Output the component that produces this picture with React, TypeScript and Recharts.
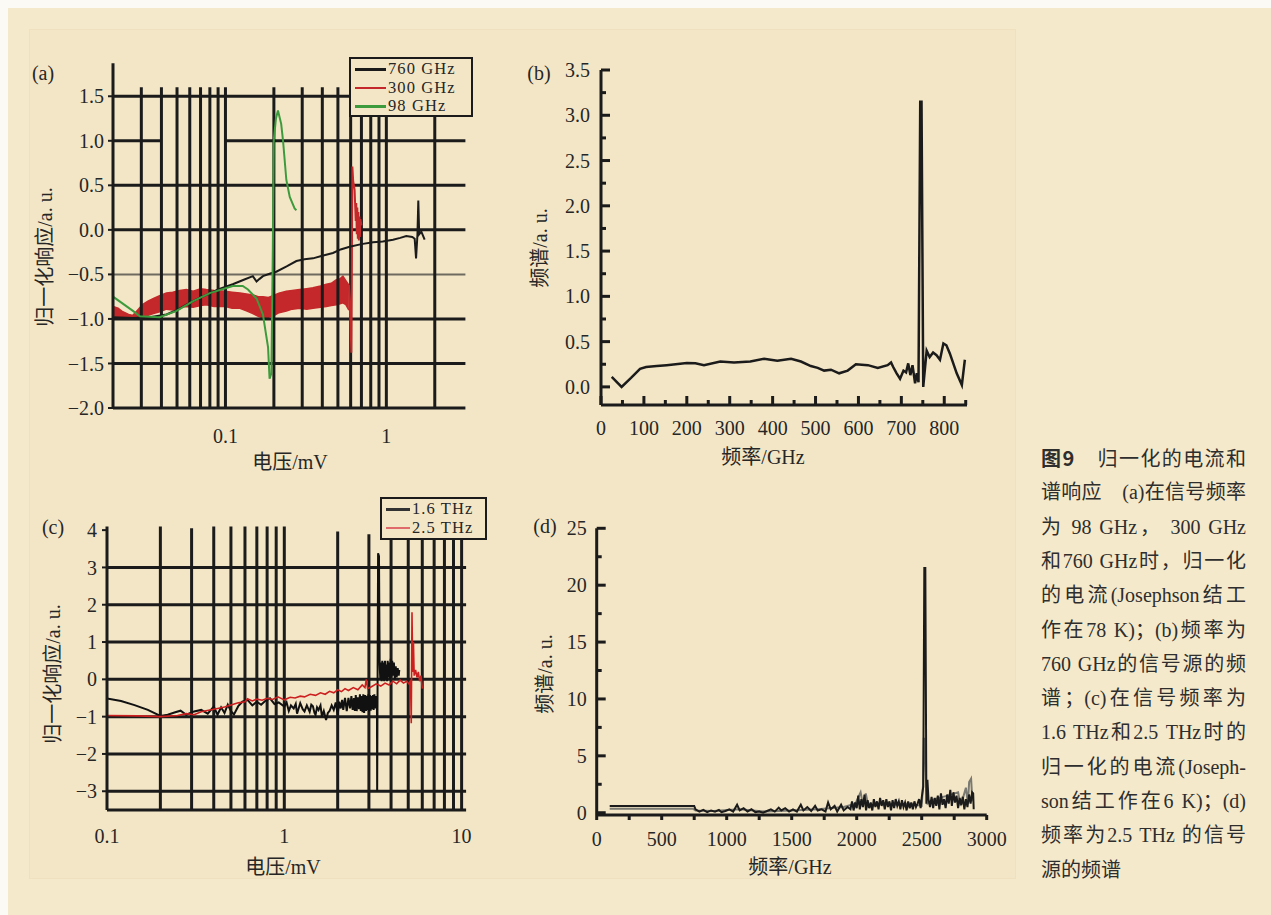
import React from 'react';
import { ComposedChart, LineChart, Line, Area, XAxis, YAxis, ReferenceLine } from 'recharts';

const SERIF = '"Liberation Serif", "Times New Roman", "Noto Sans CJK SC", serif';
const SANS_CJK = '"Noto Sans CJK SC", "Noto Sans", sans-serif';
const INK = '#1b1b1b';
const TXT = '#262626';
const EDGE = '#fcfaf4';
const PAGE = '#f5e9cb';
const PANEL = '#f3e6c6';
const RED = '#c4282a';
const GREEN = '#3d9b3d';

// ---------------- panel (a) ----------------
const aXTicks = [0.1, 1];
const aYTicks = [-2, -1.5, -1, -0.5, 0, 0.5, 1, 1.5];
const aHGridBlack = [1.5, 0.5, 0, -1, -1.5];
const aHGridGray = [-0.5];
const aOneSegments: [number, number][] = [[0.02, 0.04], [0.1, 3.1]];
const aVGrid = [0.03, 0.04, 0.05, 0.06, 0.07, 0.08, 0.09, 0.1, 0.2, 0.3, 0.4, 0.5, 0.6, 0.7, 0.8, 0.9, 1, 2];
const aVGridTop = 1.6;

const a760: [number, number][] = [
  [0.02, -0.98], [0.0266, -0.99], [0.0338, -0.98], [0.043, -0.95], [0.05, -0.9], [0.0572, -0.84],
  [0.066, -0.78], [0.076, -0.73], [0.09, -0.67], [0.111, -0.61], [0.13, -0.56], [0.148, -0.52],
  [0.156, -0.58], [0.163, -0.55], [0.171, -0.52], [0.19, -0.49], [0.207, -0.47], [0.24, -0.41],
  [0.276, -0.35], [0.31, -0.33], [0.35, -0.32], [0.4, -0.29], [0.466, -0.26], [0.52, -0.22],
  [0.591, -0.19], [0.7, -0.16], [0.826, -0.14], [0.95, -0.13], [1.1, -0.11], [1.22, -0.09],
  [1.33, -0.07], [1.45, -0.08], [1.5, -0.1], [1.53, -0.32], [1.56, -0.06], [1.58, 0.33],
  [1.6, -0.05], [1.65, -0.02], [1.73, -0.11],
];

const a98: [number, number][] = [
  [0.02, -0.75], [0.0266, -0.91], [0.0294, -0.97], [0.039, -0.98], [0.0497, -0.91], [0.063, -0.8],
  [0.08, -0.71], [0.111, -0.63], [0.128, -0.63], [0.138, -0.67], [0.156, -0.77], [0.171, -0.95],
  [0.184, -1.32], [0.188, -1.67], [0.193, -1.61], [0.197, -0.2], [0.1995, 1.0], [0.206, 1.25],
  [0.212, 1.34], [0.222, 1.19], [0.228, 1.0], [0.239, 0.56], [0.251, 0.37], [0.269, 0.24], [0.276, 0.22],
];

// x, lower edge, upper edge of the noisy 300 GHz band
const a300Band: [number, number, number][] = [
  [0.02, -0.96, -0.86], [0.0215, -0.98, -0.88], [0.023, -0.99, -0.92], [0.025, -1.0, -0.95],
  [0.0266, -0.99, -0.96], [0.0285, -0.99, -0.9], [0.0305, -0.98, -0.84], [0.033, -0.96, -0.8],
  [0.0357, -0.94, -0.77], [0.039, -0.92, -0.74], [0.043, -0.89, -0.71], [0.047, -0.9, -0.7],
  [0.052, -0.87, -0.68], [0.0572, -0.86, -0.67], [0.063, -0.87, -0.69], [0.07, -0.85, -0.66],
  [0.076, -0.84, -0.67], [0.085, -0.86, -0.68], [0.1, -0.86, -0.69], [0.11, -0.88, -0.7],
  [0.123, -0.88, -0.71], [0.135, -0.91, -0.72], [0.148, -0.94, -0.73], [0.16, -0.97, -0.75],
  [0.171, -0.99, -0.75], [0.185, -0.98, -0.76], [0.197, -0.97, -0.74], [0.215, -0.93, -0.71],
  [0.239, -0.91, -0.69], [0.26, -0.89, -0.68], [0.289, -0.88, -0.67], [0.32, -0.89, -0.66],
  [0.35, -0.88, -0.65], [0.39, -0.87, -0.63], [0.424, -0.86, -0.61], [0.455, -0.85, -0.6],
  [0.489, -0.84, -0.56], [0.515, -0.83, -0.55], [0.537, -0.82, -0.52], [0.56, -0.84, -0.57],
  [0.585, -0.9, -0.62],
];

const a300Tail: [number, number][] = [
  [0.585, -0.62], [0.595, -0.9], [0.6, -1.1], [0.606, -1.38], [0.61, -0.5], [0.615, 0.71],
  [0.622, 0.55], [0.635, 0.45], [0.645, 0.1], [0.65, 0.3], [0.655, -0.05], [0.66, 0.25],
  [0.665, -0.1], [0.67, 0.2], [0.675, -0.12], [0.68, 0.15], [0.685, -0.08], [0.69, 0.12], [0.7, 0.05],
];

const aLegend: [string, string][] = [['760 GHz', INK], ['300 GHz', RED], ['98 GHz', GREEN]];

// ---------------- panel (b) ----------------
const bXTicks = [0, 50, 100, 150, 200, 250, 300, 350, 400, 450, 500, 550, 600, 650, 700, 750, 800, 850];
const bYTicks = [0, 0.25, 0.5, 0.75, 1, 1.25, 1.5, 1.75, 2, 2.25, 2.5, 2.75, 3, 3.25, 3.5];
const bSpectrum: [number, number][] = [
  [25, 0.11], [48, 0.0], [70, 0.1], [91, 0.2], [105, 0.22], [130, 0.23], [153, 0.24], [200, 0.265],
  [220, 0.26], [240, 0.24], [278, 0.28], [310, 0.27], [348, 0.28], [380, 0.31], [411, 0.29],
  [443, 0.31], [466, 0.28], [489, 0.23], [505, 0.21], [520, 0.18], [536, 0.19], [555, 0.15],
  [575, 0.18], [594, 0.25], [622, 0.24], [645, 0.21], [668, 0.24], [676, 0.27], [681, 0.22],
  [689, 0.15], [697, 0.09], [705, 0.18], [711, 0.16], [716, 0.26], [721, 0.13], [726, 0.24],
  [732, 0.04], [736, 0.15], [740, 0.05], [744, 3.15], [747, 3.15], [751, 0.0], [759, 0.4],
  [766, 0.33], [774, 0.38], [782, 0.35], [790, 0.3], [798, 0.48], [805, 0.46], [813, 0.37],
  [829, 0.15], [841, 0.02], [848, 0.3],
];

// ---------------- panel (c) ----------------
const cXTicks = [0.1, 1, 10];
const cYTicks = [-3, -2, -1, 0, 1, 2, 3, 4];
const cHGrid = [3, 2, 1, 0, -1, -2, -3];
const cVGrid: [number, number][] = [
  [0.2, 4.1], [0.3, 4.05], [0.4, 4.1], [0.5, 4.1], [0.6, 4.1], [0.7, 4.1], [0.8, 4.1], [0.9, 4.1],
  [1, 4.1], [2, 3.96], [3, 3.89], [4, 4.1], [5, 4.1], [6, 4.1], [7, 4.1], [8, 4.1], [9, 4.1], [10, 4.1],
];
const c16: [number, number][] = [
  [0.1, -0.51], [0.12, -0.58], [0.143, -0.69], [0.17, -0.82], [0.2, -0.98], [0.22, -0.95],
  [0.24, -0.89], [0.26, -0.84], [0.28, -0.95], [0.31, -0.86], [0.34, -0.82], [0.37, -0.92],
  [0.4, -0.73], [0.42, -0.95], [0.44, -0.75], [0.46, -0.9], [0.48, -0.68], [0.5, -0.85],
  [0.52, -0.94], [0.55, -0.72], [0.58, -0.6], [0.62, -0.55], [0.66, -0.7], [0.7, -0.6],
  [0.74, -0.68], [0.78, -0.58], [0.83, -0.51], [0.88, -0.66], [0.93, -0.62], [1.0, -0.73],
  [1.03, -0.62], [1.06, -0.85], [1.09, -0.7], [1.13, -0.78], [1.16, -0.66], [1.18, -0.92],
  [1.21, -0.75], [1.23, -0.64], [1.27, -0.8], [1.3, -0.86], [1.34, -0.7], [1.39, -0.87],
  [1.42, -0.68], [1.45, -0.72], [1.48, -0.9], [1.5, -0.95], [1.53, -0.75], [1.56, -0.82],
  [1.6, -0.7], [1.63, -1.0], [1.67, -0.85], [1.72, -1.09], [1.76, -0.9], [1.8, -0.85],
  [1.85, -0.7], [1.9, -0.82], [1.95, -0.62], [2.0, -0.95], [2.04, -0.6], [2.08, -0.78],
  [2.12, -0.55], [2.15, -0.82], [2.2, -0.5], [2.25, -0.85], [2.3, -0.5], [2.35, -0.78],
  [2.39, -0.45], [2.43, -0.82], [2.47, -0.5], [2.5, -0.85], [2.53, -0.42], [2.56, -0.85],
  [2.6, -0.48], [2.64, -0.8], [2.67, -0.4], [2.7, -0.85], [2.73, -0.45], [2.76, -0.88],
  [2.79, -0.4], [2.82, -0.9], [2.86, -0.42], [2.89, -0.85], [2.92, -0.45], [2.95, -0.82],
  [2.98, -0.4], [3.01, -0.86], [3.04, -0.42], [3.07, -0.84], [3.1, -0.45], [3.13, -0.8],
  [3.16, -0.42], [3.19, -0.82], [3.22, -0.4], [3.25, -0.78], [3.28, -0.45], [3.31, -0.7],
  [3.33, -0.6], [3.34, -3.0], [3.36, 0.3], [3.38, 3.38], [3.42, 3.3], [3.45, 0.4],
  [3.48, 0.0], [3.51, 0.45], [3.54, -0.05], [3.57, 0.5], [3.6, 0.0], [3.63, 0.45], [3.66, -0.05],
  [3.7, 0.5], [3.73, 0.0], [3.76, 0.4], [3.8, -0.05], [3.83, 0.5], [3.87, 0.05], [3.9, 0.45],
  [3.94, 0.0], [3.98, 0.55], [4.02, 0.05], [4.06, 0.5], [4.1, 0.1], [4.15, 0.45], [4.2, 0.0],
  [4.25, 0.35], [4.3, 0.05], [4.36, 0.3], [4.42, 0.1], [4.45, 0.25],
];
const c25: [number, number][] = [
  [0.1, -0.97], [0.15, -0.98], [0.2, -1.0], [0.25, -0.97], [0.28, -0.92], [0.31, -0.95],
  [0.34, -0.87], [0.38, -0.82], [0.42, -0.78], [0.46, -0.74], [0.5, -0.69], [0.55, -0.63],
  [0.6, -0.6], [0.62, -0.52], [0.66, -0.58], [0.7, -0.53], [0.75, -0.56], [0.8, -0.51],
  [0.86, -0.54], [0.92, -0.47], [1.0, -0.55], [1.08, -0.48], [1.15, -0.5], [1.23, -0.45],
  [1.3, -0.47], [1.4, -0.4], [1.5, -0.43], [1.6, -0.36], [1.7, -0.4], [1.8, -0.32], [1.9, -0.36],
  [2.0, -0.28], [2.1, -0.33], [2.2, -0.25], [2.3, -0.3], [2.45, -0.22], [2.6, -0.28], [2.75, -0.15],
  [2.85, -0.22], [2.9, 0.0], [2.95, -0.25], [3.1, -0.2], [3.3, -0.12], [3.5, -0.18], [3.7, -0.1],
  [3.9, -0.15], [4.1, -0.05], [4.3, -0.12], [4.5, -0.02], [4.7, -0.1], [4.9, -0.05], [5.05, -0.12],
  [5.15, -0.05], [5.2, -1.18], [5.25, 1.8], [5.3, 0.2], [5.35, 1.0], [5.4, 0.1], [5.5, 0.25],
  [5.6, 0.05], [5.7, 0.2], [5.8, -0.05], [5.9, 0.1], [6.0, -0.25],
];
const cLegend: [string, string][] = [['1.6 THz', '#333333'], ['2.5 THz', '#e06a6a']];

// ---------------- panel (d) ----------------
const dXTicks = [0, 250, 500, 750, 1000, 1250, 1500, 1750, 2000, 2250, 2500, 2750, 3000];
const dYTicks = [0, 2.5, 5, 7.5, 10, 12.5, 15, 17.5, 20, 22.5, 25];
const dBlack: [number, number][] = [
  [100, 0.6], [750, 0.6], [760, 0.3], [790, 0.1], [820, 0.25], [850, 0.05], [880, 0.2], [910, 0.1],
  [940, 0.25], [960, 0.05], [990, 0.15], [1020, 0.3], [1050, 0.1], [1080, 0.7], [1100, 0.2],
  [1130, 0.4], [1160, 0.1], [1190, 0.3], [1220, 0.05], [1250, 0.1], [1280, 0.0], [1310, 0.15],
  [1340, 0.3], [1370, 0.1], [1400, 0.45], [1420, 0.2], [1450, 0.4], [1480, 0.1], [1510, 0.3],
  [1540, 0.1], [1570, 0.7], [1590, 0.2], [1620, 0.5], [1650, 0.15], [1680, 0.6], [1700, 0.2],
  [1730, 0.3], [1760, 0.1], [1780, 0.9], [1800, 0.3], [1830, 0.6], [1850, 0.1], [1880, 0.7],
  [1900, 0.2], [1930, 0.5], [1952, 0.3], [1964, 1.0], [1976, 0.2], [1988, 0.9], [2000, 0.4],
  [2012, 1.5], [2024, 0.3], [2036, 1.2], [2048, 0.5], [2060, 1.6], [2072, 0.2], [2084, 1.1],
  [2096, 0.4], [2108, 0.9], [2120, 0.2], [2132, 1.2], [2144, 0.5], [2156, 1.0], [2168, 0.3],
  [2180, 1.3], [2192, 0.6], [2204, 1.1], [2216, 0.3], [2228, 1.2], [2240, 0.5], [2252, 1.0],
  [2264, 0.2], [2276, 1.1], [2288, 0.4], [2300, 1.2], [2312, 0.6], [2324, 1.0], [2336, 0.3],
  [2348, 1.1], [2360, 0.5], [2372, 0.9], [2384, 0.2], [2396, 1.0], [2408, 0.4], [2420, 0.9],
  [2432, 0.3], [2444, 1.0], [2456, 0.5], [2468, 0.8], [2480, 1.2], [2492, 0.4], [2500, 1.3],
  [2512, 2.3], [2520, 21.5], [2528, 21.5], [2536, 0.8], [2544, 2.9], [2552, 1.2], [2564, 0.5],
  [2576, 1.4], [2588, 0.4], [2600, 1.3], [2612, 0.6], [2624, 1.5], [2636, 0.3], [2648, 1.7],
  [2660, 0.7], [2672, 1.2], [2684, 0.4], [2696, 1.6], [2708, 0.8], [2720, 2.0], [2732, 0.6],
  [2744, 1.8], [2756, 0.9], [2768, 1.5], [2780, 0.4], [2792, 1.3], [2804, 0.7], [2816, 1.4],
  [2828, 0.3], [2840, 1.2], [2852, 0.5], [2864, 1.6], [2876, 0.8], [2888, 1.8], [2896, 1.7],
  [2900, 0.3],
];
const dGray: [number, number][] = [
  [100, 0.35], [740, 0.35], [760, 0.2], [900, 0.15], [1100, 0.3], [1300, 0.1], [1500, 0.2],
  [1700, 0.3], [1900, 0.5], [1990, 0.8], [2030, 1.8], [2050, 0.6], [2070, 1.7], [2090, 0.5],
  [2200, 0.9], [2300, 0.7], [2400, 0.8], [2500, 0.6], [2510, 2.4], [2516, 6.5], [2522, 6.5],
  [2532, 3.0], [2545, 0.8], [2600, 1.2], [2700, 1.5], [2780, 1.8], [2800, 0.6], [2840, 2.2],
  [2855, 0.8], [2865, 2.7], [2880, 3.0], [2890, 1.0],
];

// ---------------- caption ----------------
const captionHead = '图9';
const captionLines = [
  '归一化的电流和',
  '谱响应　(a)在信号频率',
  '为 98 GHz，  300 GHz',
  '和760 GHz时，归一化',
  '的电流(Josephson结工',
  '作在78 K)；(b)频率为',
  '760 GHz的信号源的频',
  '谱；(c)在信号频率为',
  '1.6 THz和2.5 THz时的',
  '归一化的电流(Joseph-',
  'son结工作在6 K)；(d)',
  '频率为2.5 THz 的信号',
  '源的频谱',
];

// ---------------- helpers ----------------
const rows = (arr: [number, number][]) => arr.map(([x, y]) => ({ x, y }));
const bandRows = a300Band.map(([x, lo, hi]) => ({ x, band: [lo, hi] }));
const minus = (s: string) => s.replace('-', '\u2212');
const fmt1 = (v: number) => minus(v.toFixed(1));
const fmt0 = (v: number) => minus(String(v));

const tickFont = { fill: TXT, fontSize: 20, fontFamily: SERIF };

type TickSpec = {
  side: 'left' | 'bottom';
  major: (v: number) => boolean;
  fmt: (v: number) => string;
  majorLen: number;
  minorLen: number;
  dir: number;
  textOff: number;
};
function makeTick(s: TickSpec) {
  return (p: any) => {
    const v = Number(p.payload.value);
    const isMajor = s.major(v);
    const L = isMajor ? s.majorLen : s.minorLen;
    if (s.side === 'left') {
      return (
        <g>
          <line x1={p.x} x2={p.x + s.dir * L} y1={p.y} y2={p.y} stroke={INK} strokeWidth={3} />
          {isMajor && (
            <text x={p.x - s.textOff} y={p.y} dy="0.35em" textAnchor="end" {...tickFont}>
              {s.fmt(v)}
            </text>
          )}
        </g>
      );
    }
    return (
      <g>
        <line x1={p.x} x2={p.x} y1={p.y} y2={p.y + s.dir * L} stroke={INK} strokeWidth={3} />
        {isMajor && (
          <text x={p.x} y={p.y + s.textOff} dy="0.35em" textAnchor="middle" {...tickFont}>
            {s.fmt(v)}
          </text>
        )}
      </g>
    );
  };
}
const isMult = (step: number) => (v: number) => Math.abs(v / step - Math.round(v / step)) < 1e-6;

const abs = (left: number, top: number): React.CSSProperties => ({ position: 'absolute', left, top });

function VTitle({ cx, cy, text }: { cx: number; cy: number; text: string }) {
  return (
    <div
      style={{
        position: 'absolute', left: cx, top: cy, transform: 'translate(-50%, -50%) rotate(-90deg)',
        whiteSpace: 'nowrap', fontSize: 20, lineHeight: '22px', color: TXT, fontFamily: SERIF,
      }}
    >
      {text}
    </div>
  );
}
function HText({ cx, cy, text }: { cx: number; cy: number; text: string }) {
  return (
    <div
      style={{
        position: 'absolute', left: cx, top: cy, transform: 'translate(-50%, -50%)',
        whiteSpace: 'nowrap', fontSize: 20, lineHeight: '22px', color: TXT, fontFamily: SERIF,
      }}
    >
      {text}
    </div>
  );
}
function LegendBox({ left, top, width, height, items, rowH, sample }: {
  left: number; top: number; width: number; height: number; items: [string, string][]; rowH: number; sample: number;
}) {
  return (
    <div
      style={{
        position: 'absolute', left, top, width, height, boxSizing: 'border-box', border: `2px solid ${INK}`,
        background: PANEL, paddingTop: 1,
      }}
    >
      {items.map(([name, color]) => (
        <div key={name} style={{ display: 'flex', alignItems: 'center', height: rowH, paddingLeft: 4 }}>
          <div style={{ width: sample, height: 2.5, background: color, marginRight: 2, flex: 'none' }} />
          <div
            style={{
              fontSize: 16.5, height: rowH, lineHeight: `${rowH}px`, color: TXT, fontFamily: SERIF,
              whiteSpace: 'nowrap', letterSpacing: 1.1,
            }}
          >
            {name}
          </div>
        </div>
      ))}
    </div>
  );
}

export default function App() {
  return (
    <div style={{ position: 'absolute', left: 0, top: 0, width: 1271, height: 915, background: EDGE, overflow: 'hidden' }}>
      <div style={{ position: 'absolute', left: 8, top: 8, width: 1263, height: 907, background: PAGE }} />
      <div style={{ position: 'absolute', left: 30, top: 30, width: 985, height: 848, background: PANEL, boxShadow: '0 0 0 1px #efe1bf' }} />

      {/* (a) */}
      <div style={abs(0, 40)}>
        <ComposedChart width={480} height={440} data={bandRows} margin={{ top: 23.3, right: 14.6, left: 53, bottom: 32 }}>
          <XAxis
            dataKey="x" type="number" scale="log" domain={[0.02, 3.1]} allowDataOverflow ticks={aXTicks}
            interval={0} tickFormatter={(v: number) => String(v)} axisLine={{ stroke: INK, strokeWidth: 3 }}
            tickLine={false} tickSize={6} tickMargin={15} height={40} tick={tickFont}
          />
          <YAxis
            type="number" domain={[-2, 1.87]} allowDataOverflow ticks={aYTicks} interval={0} tickFormatter={fmt1}
            axisLine={{ stroke: INK, strokeWidth: 3 }} tickLine={{ stroke: INK, strokeWidth: 2 }} tickSize={5}
            tickMargin={4} width={60} tick={tickFont}
          />
          {aHGridBlack.map((v) => (
            <ReferenceLine key={`h${v}`} y={v} stroke={INK} strokeWidth={3} />
          ))}
          {aHGridGray.map((v) => (
            <ReferenceLine key={`g${v}`} y={v} stroke="#6e6a60" strokeWidth={2} />
          ))}
          {aOneSegments.map(([x0, x1]) => (
            <ReferenceLine key={`one${x0}`} segment={[{ x: x0, y: 1 }, { x: x1, y: 1 }]} stroke={INK} strokeWidth={3} />
          ))}
          {aVGrid.map((v) => (
            <ReferenceLine key={`v${v}`} segment={[{ x: v, y: -2 }, { x: v, y: aVGridTop }]} stroke={INK} strokeWidth={3} />
          ))}
          <Area type="linear" dataKey="band" stroke={RED} strokeWidth={1.5} fill={RED} fillOpacity={1} dot={false} activeDot={false} isAnimationActive={false} />
          <Line data={rows(a300Tail)} type="linear" dataKey="y" stroke={RED} strokeWidth={2} dot={false} activeDot={false} isAnimationActive={false} />
          <Line data={rows(a760)} type="linear" dataKey="y" stroke={INK} strokeWidth={2} dot={false} activeDot={false} isAnimationActive={false} />
          <Line data={rows(a98)} type="linear" dataKey="y" stroke={GREEN} strokeWidth={2} dot={false} activeDot={false} isAnimationActive={false} />
        </ComposedChart>
      </div>

      {/* (b) */}
      <div style={abs(500, 40)}>
        <LineChart width={480} height={440} data={rows(bSpectrum)} margin={{ top: 30, right: 13, left: 41, bottom: 35 }}>
          <XAxis
            dataKey="x" type="number" domain={[0, 853]} allowDataOverflow ticks={bXTicks} interval={0}
            axisLine={{ stroke: INK, strokeWidth: 3 }} tickLine={false} tickSize={0} tickMargin={0} height={40}
            tick={makeTick({ side: 'bottom', major: isMult(100), fmt: fmt0, majorLen: 9, minorLen: 5, dir: -1, textOff: 23 })}
          />
          <YAxis
            type="number" domain={[-0.2, 3.5]} allowDataOverflow ticks={bYTicks} interval={0}
            axisLine={{ stroke: INK, strokeWidth: 3 }} tickLine={false} tickSize={0} tickMargin={0} width={60}
            tick={makeTick({ side: 'left', major: isMult(0.5), fmt: fmt1, majorLen: 9, minorLen: 5, dir: 1, textOff: 11 })}
          />
          <Line type="linear" dataKey="y" stroke={INK} strokeWidth={2.5} dot={false} activeDot={false} isAnimationActive={false} />
        </LineChart>
      </div>

      {/* (c) */}
      <div style={abs(0, 490)}>
        <LineChart width={480} height={400} data={rows(c16)} margin={{ top: 36.4, right: 13.9, left: 47, bottom: 40.1 }}>
          <XAxis
            dataKey="x" type="number" scale="log" domain={[0.1, 10.6]} allowDataOverflow ticks={cXTicks}
            interval={0} tickFormatter={(v: number) => String(v)} axisLine={{ stroke: INK, strokeWidth: 3 }}
            tickLine={false} tickSize={6} tickMargin={13} height={40} tick={tickFont}
          />
          <YAxis
            type="number" domain={[-3.5, 4.1]} allowDataOverflow ticks={cYTicks} interval={0} tickFormatter={fmt0}
            axisLine={{ stroke: INK, strokeWidth: 3 }} tickLine={{ stroke: INK, strokeWidth: 2 }} tickSize={5}
            tickMargin={5} width={60} tick={tickFont}
          />
          {cHGrid.map((v) => (
            <ReferenceLine key={`h${v}`} y={v} stroke={INK} strokeWidth={3} />
          ))}
          {cVGrid.map(([v, top]) => (
            <ReferenceLine key={`v${v}`} segment={[{ x: v, y: -3.5 }, { x: v, y: top }]} stroke={INK} strokeWidth={3} />
          ))}
          <Line type="linear" dataKey="y" stroke="#111111" strokeWidth={2} dot={false} activeDot={false} isAnimationActive={false} />
          <Line data={rows(c25)} type="linear" dataKey="y" stroke="#cc2020" strokeWidth={1.6} dot={false} activeDot={false} isAnimationActive={false} />
        </LineChart>
      </div>

      {/* (d) */}
      <div style={abs(500, 490)}>
        <LineChart width={530} height={400} data={rows(dBlack)} margin={{ top: 38.3, right: 43.3, left: 36.7, bottom: 35 }}>
          <XAxis
            dataKey="x" type="number" domain={[0, 3000]} allowDataOverflow ticks={dXTicks} interval={0}
            axisLine={{ stroke: INK, strokeWidth: 3 }} tickLine={false} tickSize={0} tickMargin={0} height={40}
            tick={makeTick({ side: 'bottom', major: isMult(500), fmt: fmt0, majorLen: 5, minorLen: 5, dir: 1, textOff: 23.5 })}
          />
          <YAxis
            type="number" domain={[-0.2, 25]} allowDataOverflow ticks={dYTicks} interval={0}
            axisLine={{ stroke: INK, strokeWidth: 3 }} tickLine={false} tickSize={0} tickMargin={0} width={60}
            tick={makeTick({ side: 'left', major: isMult(5), fmt: fmt0, majorLen: 9, minorLen: 5, dir: 1, textOff: 10 })}
          />
          <Line data={rows(dGray)} type="linear" dataKey="y" stroke="#7a7a72" strokeWidth={2} dot={false} activeDot={false} isAnimationActive={false} />
          <Line type="linear" dataKey="y" stroke={INK} strokeWidth={2} dot={false} activeDot={false} isAnimationActive={false} />
        </LineChart>
      </div>

      {/* panel letters */}
      <HText cx={43} cy={73} text="(a)" />
      <HText cx={539} cy={73} text="(b)" />
      <HText cx={53} cy={527} text="(c)" />
      <HText cx={545} cy={526} text="(d)" />

      {/* axis titles */}
      <VTitle cx={45} cy={257} text="归一化响应/a. u." />
      <HText cx={290} cy={462} text="电压/mV" />
      <VTitle cx={540} cy={248} text="频谱/a. u." />
      <HText cx={763} cy={457} text="频率/GHz" />
      <VTitle cx={53} cy={674} text="归一化响应/a. u." />
      <HText cx={283} cy={867} text="电压/mV" />
      <VTitle cx={545} cy={674} text="频谱/a. u." />
      <HText cx={790} cy={867} text="频率/GHz" />

      {/* legends */}
      <LegendBox left={349} top={57} width={124} height={60} items={aLegend} rowH={18.5} sample={31} />
      <LegendBox left={380} top={497} width={107} height={43} items={cLegend} rowH={18.5} sample={24} />

      {/* caption */}
      <div style={{ position: 'absolute', left: 1041, top: 441, width: 205, color: '#2e2e2e', fontFamily: SERIF, fontSize: 20 }}>
        {captionLines.map((line, i) => (
          <div
            key={i}
            style={{
              position: 'absolute', left: 0, top: i * 34.3, width: 205, height: 34, lineHeight: '34px',
              whiteSpace: 'nowrap', textAlign: 'justify', textAlignLast: i === captionLines.length - 1 ? 'left' : 'justify',
            }}
          >
            {i === 0 ? (
              <>
                <span style={{ fontFamily: SANS_CJK, fontWeight: 700, marginRight: 22 }}>{captionHead}</span>
                {line}
              </>
            ) : (
              line
            )}
          </div>
        ))}
      </div>
    </div>
  );
}
